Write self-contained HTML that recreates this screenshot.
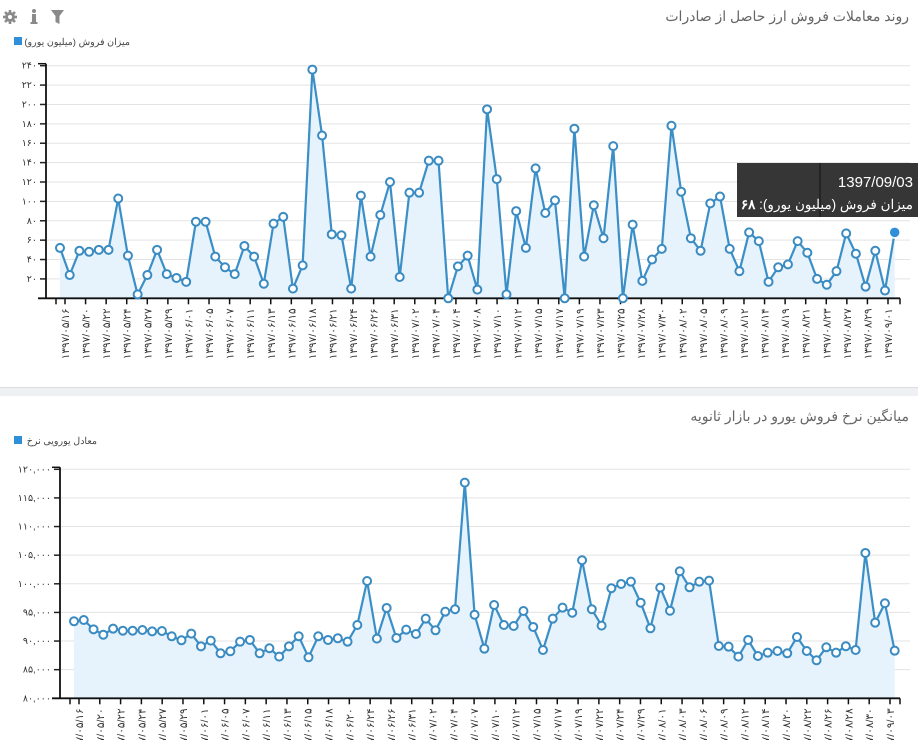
<!DOCTYPE html>
<html><head><meta charset="utf-8">
<style>
html,body{margin:0;padding:0;background:#fff;}
body{width:918px;height:740px;overflow:hidden;font-family:"Liberation Sans","Noto Sans CJK SC",sans-serif;}
svg text{font-family:"Liberation Sans","Noto Sans CJK SC",sans-serif;}
</style></head>
<body>
<svg id="svg" width="918" height="740" viewBox="0 0 918 740" xmlns="http://www.w3.org/2000/svg">
  <g fill="#8a8a8a">
    <circle cx="10" cy="17" r="5"/>
    <g stroke="#8a8a8a" stroke-width="2.6"><line x1="10" y1="10" x2="10" y2="24"/><line x1="3" y1="17" x2="17" y2="17"/><line x1="5" y1="12" x2="15" y2="22"/><line x1="15" y1="12" x2="5" y2="22"/></g>
    <circle cx="10" cy="17" r="2" fill="#fff"/>
  </g>
  <g fill="#8a8a8a">
    <circle cx="34" cy="11" r="2"/><rect x="32" y="14" width="4" height="9"/><rect x="30.5" y="22" width="7" height="2"/>
  </g>
  <path d="M51 10 H64 L59.5 16 V24 L55.5 22 V16 Z" fill="#8a8a8a"/>

  <text x="909" y="21" text-anchor="start" direction="rtl" font-size="14" fill="#666">روند معاملات فروش ارز حاصل از صادرات</text>
  <g>
    <rect x="14" y="37" width="8" height="8" fill="#2f8fd8"/>
    <text x="130" y="45" text-anchor="start" direction="rtl" font-size="9.5" fill="#444">میزان فروش (میلیون یورو)</text>
  </g>

  <rect x="0" y="387" width="918" height="9" fill="#eef0f3"/>
  <line x1="0" y1="387.5" x2="918" y2="387.5" stroke="#dcdcdc"/>

  <text x="909" y="421" text-anchor="start" direction="rtl" font-size="14" fill="#666">میانگین نرخ فروش یورو در بازار ثانویه</text>
  <g>
    <rect x="14" y="436" width="8" height="8" fill="#2f8fd8"/>
    <text x="97" y="444" text-anchor="start" direction="rtl" font-size="9.5" fill="#444">معادل یورویی نرخ</text>
  </g>

  <g id="topG"></g>
  <g id="bottomG"></g>
  <g id="tipG"></g>
</svg>
<script>
const topValues = [52,24,49,48,50,50,103,44,4,24,50,25,21,17,79,79,43,32,25,54,43,15,77,84,10,34,236,168,66,65,10,106,43,86,120,22,109,109,142,142,0,33,44,9,195,123,4,90,52,134,88,101,0,175,43,96,62,157,0,76,18,40,51,178,110,62,49,98,105,51,28,68,59,17,32,35,59,47,20,14,28,67,46,12,49,8,68];
const topTicks = [20,40,60,80,100,120,140,160,180,200,220,240];
const topLabels = ["1397/05/16","1397/05/20","1397/05/22","1397/05/24","1397/05/27","1397/05/29","1397/06/01","1397/06/05","1397/06/07","1397/06/11","1397/06/13","1397/06/15","1397/06/18","1397/06/21","1397/06/24","1397/06/26","1397/06/31","1397/07/02","1397/07/04","1397/07/04","1397/07/08","1397/07/10","1397/07/12","1397/07/15","1397/07/17","1397/07/19","1397/07/23","1397/07/25","1397/07/28","1397/07/30","1397/08/02","1397/08/05","1397/08/09","1397/08/12","1397/08/14","1397/08/19","1397/08/21","1397/08/23","1397/08/27","1397/08/29","1397/09/01"];
const bottomValues = [93450,93680,92050,91110,92160,91810,91810,91930,91700,91760,90830,90130,91300,89080,90070,87860,88210,89890,90190,87860,88740,87280,89080,90830,87160,90830,90190,90480,89890,92800,100490,90420,95780,90540,91990,91230,93910,91880,95130,95550,117670,94600,88670,96300,92800,92630,95250,92460,88440,93910,95830,94950,104110,95550,92690,99220,99970,100370,96700,92230,99330,95300,102190,99390,100370,100550,89140,89020,87280,90190,87390,87970,88260,87860,90710,88260,86640,88910,87970,89100,88440,105390,93210,96600,88320];
const bottomTicks = [80000,85000,90000,95000,100000,105000,110000,115000,120000];
const bottomLabels = ["1397/05/16","1397/05/20","1397/05/22","1397/05/24","1397/05/27","1397/05/29","1397/06/01","1397/06/05","1397/06/07","1397/06/11","1397/06/13","1397/06/15","1397/06/18","1397/06/20","1397/06/24","1397/06/26","1397/06/31","1397/07/02","1397/07/04","1397/07/07","1397/07/10","1397/07/12","1397/07/15","1397/07/17","1397/07/19","1397/07/22","1397/07/24","1397/07/29","1397/08/01","1397/08/03","1397/08/06","1397/08/09","1397/08/12","1397/08/14","1397/08/20","1397/08/22","1397/08/26","1397/08/28","1397/08/30","1397/09/03"];
const tipDate = "1397/09/03";

const NS="http://www.w3.org/2000/svg";
function fa(s){return String(s).replace(/[0-9]/g,d=>"۰۱۲۳۴۵۶۷۸۹"[d]);}
function mk(tag,attrs,parent){const e=document.createElementNS(NS,tag);for(const k in attrs)e.setAttribute(k,attrs[k]);parent.appendChild(e);return e;}
function fmtNum(v){return String(v).replace(/\B(?=(\d{3})+(?!\d))/g,',');}

function drawChart(g,cfg){
  const {values,ticks,labels,vmin,vmax,axisX,yTop,yBot,xStart,xEnd,xRight,lblStart,lblEnd,fmt,prefix}=cfg;
  const ys=v=>yBot-(v-vmin)/(vmax-vmin)*(yBot-yTop);
  const step=(xEnd-xStart)/(values.length-1);
  const xs=i=>xStart+i*step;
  ticks.forEach(t=>{
    const y=ys(t);
    if(t!==vmin){const gl=mk('line',{x1:axisX,x2:xRight,y1:y,y2:y,stroke:'#e3e3e3','stroke-width':1},g);
    
    }
    const tm=mk('line',{x1:axisX-6,x2:axisX,y1:y,y2:y,stroke:'#222','stroke-width':1.5},g);
    
    
    const tx=mk('text',{x:axisX-9,y:y+3,'text-anchor':'end','font-size':9.5,fill:'#333'},g);
    tx.textContent=fa(fmt(t));
    
    
  });
  const pts=values.map((v,i)=>[xs(i),ys(v)]);
  const d='M'+pts.map(p=>p[0].toFixed(1)+','+p[1].toFixed(1)).join(' L');
  const area=mk('path',{d:d+` L${xs(values.length-1)},${yBot} L${xs(0)},${yBot} Z`,fill:'#e6f2fc'},g);
  
  
  const line=mk('path',{d:d,fill:'none',stroke:'#3b8fc7','stroke-width':2.2,'stroke-linejoin':'round'},g);
  
  
  const ya=mk('line',{x1:axisX,x2:axisX,y1:yTop-2,y2:yBot,stroke:'#111','stroke-width':1.8},g);
  
  
  mk('line',{x1:axisX-8,x2:axisX,y1:yTop-2,y2:yTop-2,stroke:'#111','stroke-width':1.5},g);
  const xa=mk('line',{x1:axisX-8,x2:xRight-10,y1:yBot,y2:yBot,stroke:'#111','stroke-width':1.8},g);
  
  
  const ls=(lblEnd-lblStart)/(labels.length-1);
  mk('line',{x1:axisX+10,x2:axisX+10,y1:yBot,y2:yBot+6,stroke:'#111','stroke-width':1.5},g);
  labels.forEach((l,i)=>{
    const x=lblStart+i*ls;
    const tk=mk('line',{x1:x,x2:x,y1:yBot,y2:yBot+6,stroke:'#111','stroke-width':1.5},g);
    
    
    const t=mk('text',{x:0,y:0,'text-anchor':'end','font-size':10.5,fill:'#333',transform:`translate(${x+4},${yBot+10}) rotate(-90)`},g);
    t.textContent=fa(l);
    
    
  });
  mk('line',{x1:xRight-10,x2:xRight-10,y1:yBot,y2:yBot+6,stroke:'#111','stroke-width':1.5},g);
  pts.forEach(p=>{
    const c=mk('circle',{cx:p[0],cy:p[1],r:4,fill:'#fff',stroke:'#3a8bc2','stroke-width':2},g);
    
    
  });
  return {xs,ys};
}

const topChart=drawChart(document.getElementById('topG'),{values:topValues,ticks:topTicks,labels:topLabels,vmin:0,vmax:240,axisX:46,yTop:65.7,yBot:298.3,xStart:60,xEnd:894.7,xRight:910,lblStart:65,lblEnd:888,fmt:v=>String(v),prefix:'sales'});
drawChart(document.getElementById('bottomG'),{values:bottomValues,ticks:bottomTicks,labels:bottomLabels,vmin:80000,vmax:120000,axisX:60,yTop:469.3,yBot:698.3,xStart:74,xEnd:894.7,xRight:910,lblStart:79,lblEnd:890,fmt:fmtNum,prefix:'rate'});

const tg=document.getElementById('tipG');
const li=topValues.length-1;
const hp=mk('circle',{cx:topChart.xs(li),cy:topChart.ys(topValues[li]),r:5.5,fill:'#2f8fd8',stroke:'#fff','stroke-width':1.5},tg);


const box=mk('rect',{x:737,y:163,width:181,height:54,fill:'#2b2b2b','fill-opacity':0.95},tg);


mk('line',{x1:820,x2:820,y1:163,y2:217,stroke:'#111','stroke-width':1},tg);
const t1=mk('text',{x:913,y:187,'text-anchor':'end','font-size':15,fill:'#fff'},tg);
t1.textContent=tipDate;


const t2=mk('text',{x:913,y:209,'text-anchor':'start',direction:'rtl','font-size':13.5,fill:'#fff'},tg);
t2.textContent='میزان فروش (میلیون یورو): ';
const bv=mk('tspan',{'font-weight':'bold'},t2);
bv.textContent=fa(topValues[li]);


</script>
</body></html>
